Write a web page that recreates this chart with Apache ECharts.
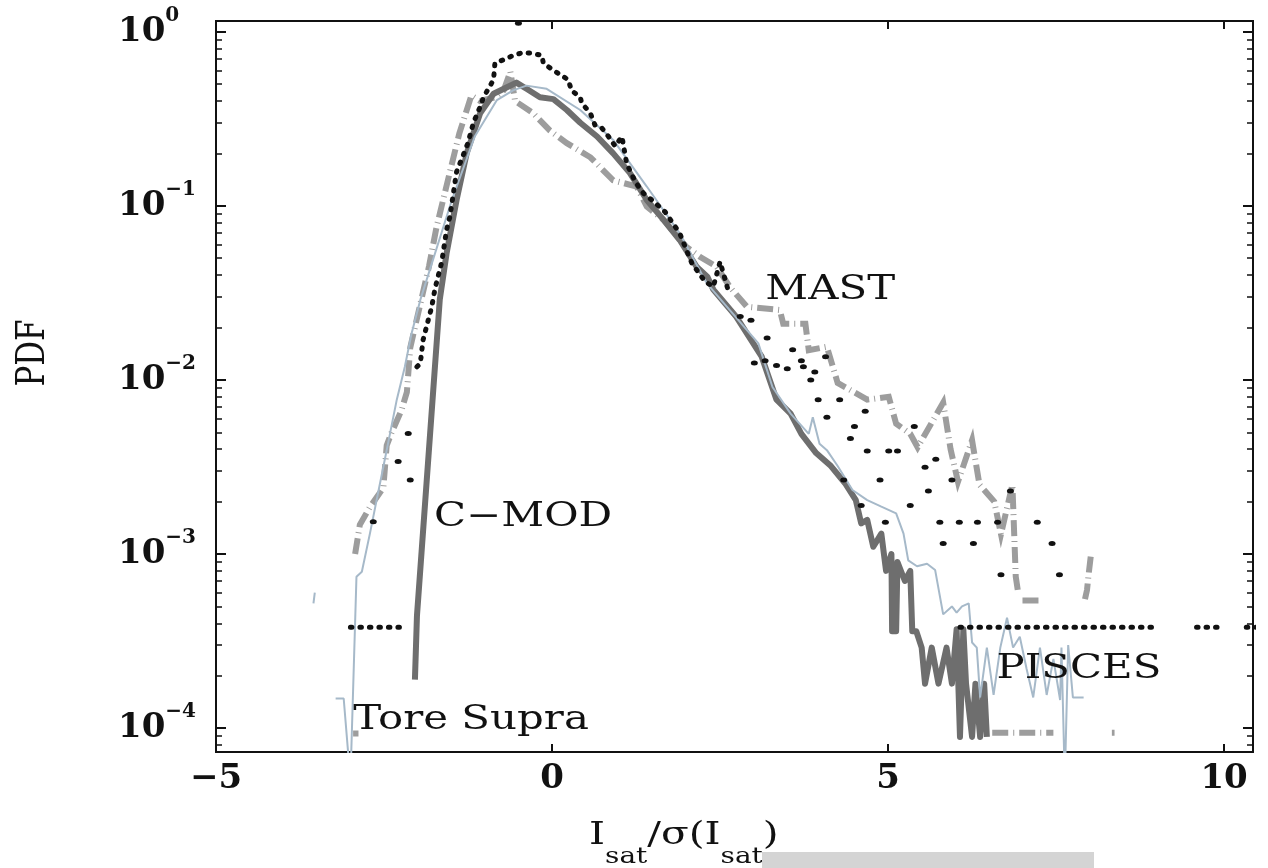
<!DOCTYPE html>
<html>
<head>
<meta charset="utf-8">
<script src="https://cdn.jsdelivr.net/npm/echarts@6/dist/echarts.min.js"></script>
<style>
html,body{margin:0;padding:0;background:#ffffff;}
#chart{width:1268px;height:868px;}
</style>
</head>
<body>
<div id="chart"></div>
<script>
// ---------- axis ticks ----------
const xTicks = [-5, 0, 5, 10];
const xTickLabels = ['\u22125', '0', '5', '10'];
const yDecades = [1e-4, 1e-3, 1e-2, 1e-1, 1];
const yExponents = ['\u22124', '\u22123', '\u22122', '\u22121', '0'];
const xNameParts = ['I', 'sat', '/σ(I', 'sat', ')'];   // I_sat / σ(I_sat)
const yName = 'PDF';

// ---------- series values (x = Isat/sigma, y = PDF); null = gap ----------
const cmod = [
  [-2.04,1.9e-4],[-2.01,4.4e-4],[-1.67,0.029],[-1.57,0.053],[-1.42,0.108],[-1.27,0.20],
  [-1.07,0.34],[-0.87,0.44],[-0.67,0.48],[-0.53,0.51],[-0.38,0.47],[-0.18,0.42],[0.02,0.41],
  [0.22,0.355],[0.42,0.30],[0.67,0.25],[0.91,0.20],[1.16,0.154],[1.41,0.108],[1.66,0.083],
  [1.90,0.0636],[2.15,0.0447],[2.31,0.0392],[2.40,0.033],[2.74,0.0231],[3.12,0.0136],
  [3.34,7.7e-3],[3.55,6.4e-3],[3.71,4.9e-3],[3.93,3.8e-3],[4.15,3.2e-3],[4.36,2.55e-3],
  [4.52,2.04e-3],[4.60,1.5e-3],[4.69,1.57e-3],[4.78,1.1e-3],[4.90,1.31e-3],[4.97,8e-4],
  [5.05,1.0e-3],[5.06,3.6e-4],[5.12,3.6e-4],[5.14,9e-4],[5.25,7e-4],[5.33,8e-4],[5.36,3.6e-4],
  [5.42,3.6e-4],[5.50,2.9e-4],[5.55,1.8e-4],[5.65,2.9e-4],[5.75,1.8e-4],[5.87,2.9e-4],
  [5.95,1.8e-4],[6.02,3.7e-4],[6.07,8.9e-5],[6.12,3.7e-4],[6.16,1.8e-4],[6.25,8.9e-5],
  [6.30,1.8e-4],[6.37,8.9e-5],[6.43,1.8e-4],[6.47,8.9e-5]
];
const toreSupra = [
  [-3.55,5.2e-4],[-3.53,6.0e-4],null,
  [-3.22,1.48e-4],[-3.10,1.48e-4],[-3.00,5e-5],[-2.91,7.4e-4],[-2.83,7.9e-4],[-2.71,1.31e-3],
  [-2.61,2.04e-3],[-2.51,3.17e-3],[-2.41,4.93e-3],[-2.31,7.7e-3],[-2.19,0.0119],[-2.09,0.0185],
  [-1.96,0.0288],[-1.49,0.108],[-1.15,0.25],[-0.82,0.405],[-0.58,0.46],[-0.38,0.49],[-0.08,0.47],
  [0.42,0.355],[0.91,0.239],[1.41,0.129],[1.90,0.0695],[2.30,0.036],[3.07,0.0162],[3.28,9.1e-3],
  [3.55,6.4e-3],[3.82,4.9e-3],[3.88,6.1e-3],[3.98,4.3e-3],[4.09,3.95e-3],[4.25,3.2e-3],
  [4.47,2.33e-3],[4.69,2.04e-3],[4.90,1.87e-3],[5.12,1.71e-3],[5.23,1.31e-3],[5.30,9.2e-4],
  [5.43,8.5e-4],[5.58,8.8e-4],[5.70,8.1e-4],[5.82,4.5e-4],[5.95,5.0e-4],[6.02,4.6e-4],
  [6.10,5.0e-4],[6.20,5.2e-4],[6.25,3.1e-4],[6.32,2.9e-4],[6.37,1.5e-4],[6.47,2.9e-4],
  [6.57,1.55e-4],[6.67,2.9e-4],[6.77,4.3e-4],[6.86,2.9e-4],[6.96,3.35e-4],[7.06,2.2e-4],
  [7.16,1.5e-4],[7.26,2.9e-4],[7.36,1.55e-4],[7.46,2.5e-4],[7.56,1.45e-4],[7.58,2.9e-4],
  [7.63,5e-5],[7.68,3.0e-4],[7.75,1.5e-4],[7.91,1.5e-4]
];
const mast = [
  [-2.96,9.3e-5],[-2.88,9.3e-5],null,
  [-2.93,1.0e-3],[-2.86,1.47e-3],[-2.71,1.86e-3],[-2.51,2.4e-3],[-2.46,4.2e-3],[-2.39,4.95e-3],
  [-2.24,6.7e-3],[-2.16,8.5e-3],[-2.11,0.0153],[-1.83,0.045],[-1.72,0.075],[-1.56,0.135],
  [-1.38,0.26],[-1.20,0.43],[-1.07,0.40],[-0.85,0.42],[-0.72,0.46],[-0.62,0.59],[-0.55,0.40],
  [-0.28,0.34],[-0.03,0.27],[0.22,0.229],[0.57,0.19],[0.91,0.14],[1.26,0.129],[1.41,0.099],
  [1.66,0.083],[2.00,0.058],[2.20,0.051],[2.45,0.0447],[2.65,0.034],[2.90,0.0263],[3.39,0.0252],
  [3.44,0.021],[3.77,0.021],[3.82,0.0148],[4.09,0.0155],[4.25,9.6e-3],[4.52,8.4e-3],[4.69,7.7e-3],
  [5.01,8e-3],[5.12,5.6e-3],[5.33,4.9e-3],[5.44,4.1e-3],[5.82,7.4e-3],[5.93,4e-3],[6.04,2.6e-3],
  [6.25,4.5e-3],[6.36,2.5e-3],[6.58,2.0e-3],[6.68,1.3e-3],[6.85,2.5e-3],[6.90,7.4e-4],
  [6.93,6.2e-4],null,[7.00,5.4e-4],[7.30,5.4e-4],null,
  [7.93,5.5e-4],[7.96,6.2e-4],[7.98,7.4e-4],[8.02,1.0e-3],null,
  [6.55,9.4e-5],[7.46,9.4e-5],null,[8.33,9.4e-5],[8.37,9.4e-5]
];
const pisces = [
  [-3.00,3.8e-4],[-2.27,3.8e-4],null,
  [-2.01,0.0119],[-1.96,0.01245],[-1.92,0.0169],
  [-1.79,0.0263],[-1.74,0.0336],[-1.64,0.0477],[-1.57,0.0726],[-1.52,0.0865],[-1.42,0.157],
  [-1.32,0.196],[-1.25,0.23],[-1.17,0.30],[-1.07,0.37],[-1.02,0.42],[-0.87,0.53],[-0.85,0.66],
  [-0.72,0.69],[-0.58,0.73],[-0.43,0.76],[-0.28,0.75],[-0.15,0.73],[-0.13,0.66],[0.02,0.60],
  [0.24,0.53],[0.29,0.46],[0.42,0.42],[0.44,0.39],[0.57,0.34],[0.64,0.29],[0.74,0.28],
  [0.84,0.25],[0.94,0.22],[1.04,0.25],[1.11,0.175],[1.24,0.137],[1.36,0.118],[1.51,0.106],
  [1.68,0.0925],[1.90,0.0695],[2.08,0.0468],[2.28,0.0366],[2.40,0.0343],[2.50,0.0477],
  [2.62,0.0328],null,
  [6.07,3.8e-4],[8.95,3.8e-4],null,[9.59,3.8e-4],[9.99,3.8e-4],null,[10.33,3.8e-4],[10.50,3.8e-4]
];
const piscesIsolated = [
  [-2.66,1.53e-3],[-2.29,3.4e-3],[-2.11,2.66e-3],[-2.14,4.93e-3],
  [-0.50,1.12],[2.80,0.0231],[2.96,0.022],[3.01,0.0125],[3.17,0.0129],[3.20,0.0174],[3.34,0.0121],
  [3.50,0.0116],[3.58,0.0149],[3.71,0.0129],[3.74,0.0119],[3.85,0.010],[3.91,0.0111],[3.96,7.7e-3],
  [4.07,0.0136],[4.09,6.1e-3],[4.28,7.7e-3],[4.34,2.66e-3],[4.44,4.6e-3],[4.50,5.4e-3],
  [4.60,1.9e-3],[4.66,6.6e-3],[4.69,3.9e-3],[4.88,2.66e-3],[4.96,1.52e-3],[5.01,3.9e-3],
  [5.14,3.9e-3],[5.33,1.9e-3],[5.39,5.4e-3],[5.55,3.15e-3],[5.60,2.3e-3],[5.71,3.5e-3],
  [5.77,1.52e-3],[5.82,1.15e-3],[5.95,2.66e-3],[6.06,1.52e-3],[6.27,1.15e-3],[6.33,1.52e-3],
  [6.63,1.52e-3],[6.68,7.6e-4],[6.82,2.3e-3],[7.22,1.52e-3],[7.44,1.15e-3],[7.55,7.6e-4]
];

// ---------- in-plot labels (text, anchor in data coordinates) ----------
const annotations = [
  ['MAST', 4.14, 0.0328],
  ['C\u2212MOD', -0.43, 1.63e-3],
  ['PISCES', 7.84, 2.16e-4],
  ['Tore Supra', -1.205, 1.11e-4]
];

// ---------- chart ----------
const X_MIN = -5, X_MAX = 10.43;
const Y_MIN = 7.29e-5, Y_MAX = 1.152;
const INK = '#111111';
const SERIF = 'DejaVu Serif';
const TEXT_STRETCH = 1.27;   // the printed figure is horizontally stretched

const toData = arr => arr.map(p => (p === null ? ['-', '-'] : p));

const minorTicks = [];
[1e-5, 1e-4, 1e-3, 1e-2, 1e-1].forEach(d => {
  for (let k = 2; k <= 9; k++) {
    const v = k * d;
    if (v > Y_MIN && v < Y_MAX) minorTicks.push(v);
  }
});

const lineAx = {show: true, onZero: false, lineStyle: {color: INK, width: 2}};
const yBase = {
  type: 'log', logBase: 10, min: Y_MIN, max: Y_MAX,
  splitLine: {show: false}, minorTick: {show: false}, axisLine: lineAx
};
const xBase = {
  type: 'value', min: X_MIN, max: X_MAX, interval: 5,
  splitLine: {show: false}, axisLine: lineAx
};

function yLabel(v) {
  for (let i = 0; i < yDecades.length; i++) {
    if (Math.abs(Math.log10(v) - Math.log10(yDecades[i])) < 1e-6) {
      return '{b|10}{s|' + yExponents[i] + '}';
    }
  }
  return '';
}
function xLabel(v) {
  for (let i = 0; i < xTicks.length; i++) {
    if (Math.abs(v - xTicks[i]) < 1e-9) return xTickLabels[i];
  }
  return '';
}

const chart = echarts.init(document.getElementById('chart'), null, {renderer: 'canvas'});

const option = {
  backgroundColor: '#ffffff',
  animation: false,
  grid: {left: 216, right: 15, top: 21, bottom: 116, containLabel: false},
  xAxis: [
    Object.assign({}, xBase, {
      position: 'bottom',
      axisTick: {inside: true, length: 8, lineStyle: {color: INK, width: 2}, customValues: xTicks},
      axisLabel: {
        customValues: xTicks, formatter: xLabel, margin: 10,
        fontFamily: SERIF, fontSize: 34, fontWeight: 'bold', color: INK
      }
    }),
    Object.assign({}, xBase, {
      position: 'top',
      axisTick: {inside: true, length: 8, lineStyle: {color: INK, width: 2}, customValues: xTicks},
      axisLabel: {show: false}
    })
  ],
  yAxis: [
    Object.assign({}, yBase, {
      position: 'left',
      axisTick: {inside: true, length: 10, lineStyle: {color: INK, width: 2}, customValues: yDecades},
      axisLabel: {
        customValues: yDecades, formatter: yLabel, align: 'left', margin: 98, color: INK,
        rich: {
          b: {fontFamily: SERIF, fontSize: 34, fontWeight: 'bold', lineHeight: 52, color: INK},
          s: {fontFamily: SERIF, fontSize: 20, fontWeight: 'bold', lineHeight: 20, verticalAlign: 'top', color: INK}
        }
      }
    }),
    Object.assign({}, yBase, {
      position: 'left',
      axisTick: {inside: true, length: 6, lineStyle: {color: INK, width: 1.5}, customValues: minorTicks},
      axisLabel: {show: false}
    }),
    Object.assign({}, yBase, {
      position: 'right',
      axisTick: {inside: true, length: 10, lineStyle: {color: INK, width: 2}, customValues: yDecades},
      axisLabel: {show: false}
    }),
    Object.assign({}, yBase, {
      position: 'right',
      axisTick: {inside: true, length: 6, lineStyle: {color: INK, width: 1.5}, customValues: minorTicks},
      axisLabel: {show: false}
    })
  ],
  series: [
    {
      name: 'MAST', type: 'line', data: toData(mast), symbol: 'none', connectNulls: false, silent: true, z: 2,
      lineStyle: {color: '#9d9d9d', width: 6, type: [16, 5, 1, 5], cap: 'butt', join: 'miter'}
    },
    {
      name: 'C-MOD', type: 'line', data: toData(cmod), symbol: 'none', connectNulls: false, silent: true, z: 3,
      lineStyle: {color: '#6e6e6e', width: 6, join: 'round'}
    },
    {
      name: 'Tore Supra', type: 'line', data: toData(toreSupra), symbol: 'none', connectNulls: false, silent: true, z: 4,
      lineStyle: {color: '#a6b9c9', width: 2}
    },
    {
      name: 'PISCES', type: 'line', data: toData(pisces), symbol: 'none', connectNulls: false, silent: true, z: 5,
      lineStyle: {color: INK, width: 5, type: [1.5, 8], cap: 'round'}
    },
    {
      name: 'PISCES ', type: 'scatter', data: piscesIsolated, symbol: 'circle', symbolSize: [7, 5],
      silent: true, z: 5, itemStyle: {color: INK, opacity: 1}
    }
  ],
  graphic: [
    {
      id: 'yname', type: 'text', x: 34, y: 353, rotation: Math.PI / 2, scaleY: TEXT_STRETCH, z: 100,
      style: {text: yName, fontFamily: SERIF, fontSize: 31, fill: INK, align: 'center', verticalAlign: 'middle'}
    },
    {
      id: 'xname', type: 'text', x: 589, y: 820, scaleX: TEXT_STRETCH, z: 100,
      style: {
        text: '{m|' + xNameParts[0] + '}{s|' + xNameParts[1] + '}{m|' + xNameParts[2] + '}{s|' +
              xNameParts[3] + '}{m|' + xNameParts[4] + '}',
        fill: INK, align: 'left', verticalAlign: 'top',
        rich: {
          m: {fontFamily: SERIF, fontSize: 32, verticalAlign: 'top', fill: INK},
          s: {fontFamily: SERIF, fontSize: 22, verticalAlign: 'top', padding: [26, 0, 0, 0], fill: INK}
        }
      }
    },
    {
      id: 'mask', type: 'rect', left: 762, top: 852, z: 110,
      shape: {width: 332, height: 16},
      style: {fill: '#d4d4d4'}
    }
  ]
};
chart.setOption(option);

// in-plot curve labels, anchored through the axes' own scales
const annoGraphics = annotations.map((a, i) => {
  const p = chart.convertToPixel({xAxisIndex: 0, yAxisIndex: 0}, [a[1], a[2]]);
  return {
    id: 'anno' + i, type: 'text', x: p[0], y: p[1], scaleX: TEXT_STRETCH, z: 100,
    style: {text: a[0], fontFamily: SERIF, fontSize: 33, fill: INK, align: 'center', verticalAlign: 'middle'}
  };
});
chart.setOption({graphic: annoGraphics});
</script>
</body>
</html>
